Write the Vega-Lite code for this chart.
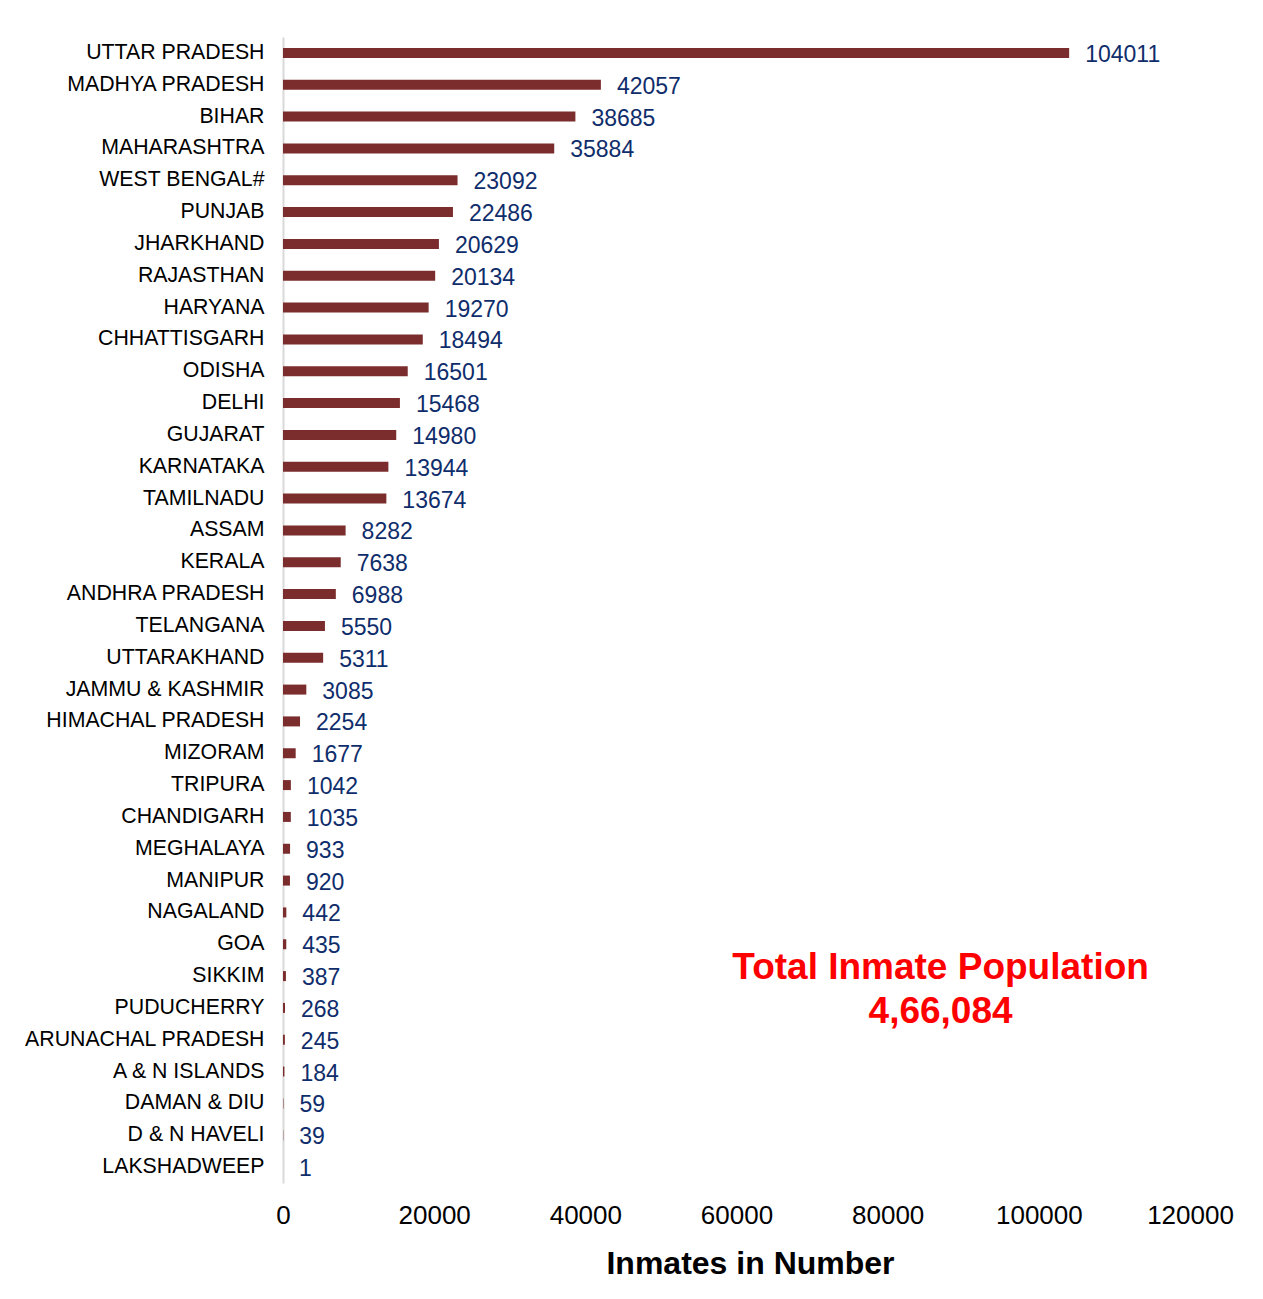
{
  "$schema": "https://vega.github.io/schema/vega-lite/v6.json",
  "width": 907,
  "height": 1146,
  "padding": {"left": 23, "top": 37, "right": 10, "bottom": 10},
  "background": "white",
  "config": {"view": {"stroke": null}, "font": "Liberation Sans"},
  "datasets": {
    "inmates": [
      {"state": "UTTAR PRADESH", "inmates": 104011},
      {"state": "MADHYA PRADESH", "inmates": 42057},
      {"state": "BIHAR", "inmates": 38685},
      {"state": "MAHARASHTRA", "inmates": 35884},
      {"state": "WEST BENGAL#", "inmates": 23092},
      {"state": "PUNJAB", "inmates": 22486},
      {"state": "JHARKHAND", "inmates": 20629},
      {"state": "RAJASTHAN", "inmates": 20134},
      {"state": "HARYANA", "inmates": 19270},
      {"state": "CHHATTISGARH", "inmates": 18494},
      {"state": "ODISHA", "inmates": 16501},
      {"state": "DELHI", "inmates": 15468},
      {"state": "GUJARAT", "inmates": 14980},
      {"state": "KARNATAKA", "inmates": 13944},
      {"state": "TAMILNADU", "inmates": 13674},
      {"state": "ASSAM", "inmates": 8282},
      {"state": "KERALA", "inmates": 7638},
      {"state": "ANDHRA PRADESH", "inmates": 6988},
      {"state": "TELANGANA", "inmates": 5550},
      {"state": "UTTARAKHAND", "inmates": 5311},
      {"state": "JAMMU & KASHMIR", "inmates": 3085},
      {"state": "HIMACHAL PRADESH", "inmates": 2254},
      {"state": "MIZORAM", "inmates": 1677},
      {"state": "TRIPURA", "inmates": 1042},
      {"state": "CHANDIGARH", "inmates": 1035},
      {"state": "MEGHALAYA", "inmates": 933},
      {"state": "MANIPUR", "inmates": 920},
      {"state": "NAGALAND", "inmates": 442},
      {"state": "GOA", "inmates": 435},
      {"state": "SIKKIM", "inmates": 387},
      {"state": "PUDUCHERRY", "inmates": 268},
      {"state": "ARUNACHAL PRADESH", "inmates": 245},
      {"state": "A & N ISLANDS", "inmates": 184},
      {"state": "DAMAN & DIU", "inmates": 59},
      {"state": "D & N HAVELI", "inmates": 39},
      {"state": "LAKSHADWEEP", "inmates": 1}
    ],
    "note": [
      {"line": "Total Inmate Population", "order": 1},
      {"line": "4,66,084", "order": 2}
    ]
  },
  "layer": [
    {
      "data": {"name": "inmates"},
      "encoding": {
        "y": {
          "field": "state", "type": "nominal", "sort": null,
          "scale": {"paddingInner": 0, "paddingOuter": 0},
          "axis": {
            "title": null, "ticks": false, "labelPadding": 19, "labelLimit": 400,
            "labelFontSize": 21.3, "labelColor": "#000000", "labelFont": "Liberation Sans",
            "domainColor": "#D9D9D9", "domainWidth": 2, "grid": false
          }
        },
        "x": {
          "field": "inmates", "type": "quantitative",
          "scale": {"domain": [0, 120000], "nice": false},
          "axis": {
            "title": "Inmates in Number", "values": [0, 20000, 40000, 60000, 80000, 100000, 120000],
            "format": "d", "grid": false, "domain": false, "ticks": false, "labelFlush": false,
            "labelFontSize": 26, "labelColor": "#000000", "labelPadding": 19, "labelFont": "Liberation Sans",
            "titleFontSize": 32, "titleFontWeight": "bold", "titleColor": "#000000", "titlePadding": 20,
            "titleFont": "Liberation Sans", "titleX": 467, "titleAlign": "center"
          }
        }
      },
      "layer": [
        {"mark": {"type": "bar", "height": 10, "color": "#7B2C2C"}},
        {
          "mark": {"type": "text", "align": "left", "baseline": "middle", "dx": 16, "dy": 2, "fontSize": 23, "color": "#0F2D6B", "font": "Liberation Sans"},
          "encoding": {"text": {"field": "inmates", "type": "quantitative", "format": "d"}}
        }
      ]
    },
    {
      "data": {"name": "note"},
      "transform": [{"filter": "datum.order == 1"}],
      "mark": {"type": "text", "align": "center", "baseline": "middle", "dy": -8, "fontSize": 37, "fontWeight": "bold", "color": "#FF0000", "font": "Liberation Sans"},
      "encoding": {
        "x": {"datum": 87000, "type": "quantitative"},
        "y": {"datum": "SIKKIM", "type": "nominal"},
        "text": {"field": "line", "type": "nominal"}
      }
    },
    {
      "data": {"name": "note"},
      "transform": [{"filter": "datum.order == 2"}],
      "mark": {"type": "text", "align": "center", "baseline": "middle", "dy": 36, "fontSize": 37, "fontWeight": "bold", "color": "#FF0000", "font": "Liberation Sans"},
      "encoding": {
        "x": {"datum": 87000, "type": "quantitative"},
        "y": {"datum": "SIKKIM", "type": "nominal"},
        "text": {"field": "line", "type": "nominal"}
      }
    }
  ]
}
